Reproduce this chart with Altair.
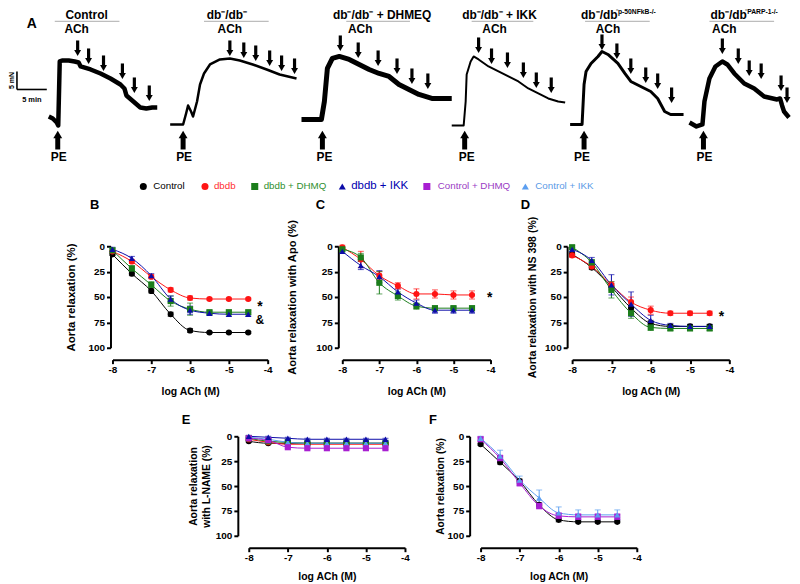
import altair as alt
import pandas as pd

FONT = "Liberation Sans"

# ---------------- Panel A : tension traces ----------------
TRACE_IDS = ["control", "dbdb", "dhmeq", "ikk", "p50", "parp"]
TRACE_WIDTH = [4.5, 2.5, 5, 2, 3, 4.5]
TRACE_X = {
    "control": [48, 52, 56, 57.5, 59, 62, 68, 74, 78, 80, 90, 100, 110, 120, 124, 126, 133, 140, 146, 152, 157],
    "dbdb": [170, 183, 186, 188, 191, 193, 197, 200, 204, 210, 220, 230, 240, 253, 267, 280, 297],
    "dhmeq": [302, 322, 325, 328, 333, 340, 350, 360, 370, 380, 390, 400, 410, 420, 433, 453],
    "ikk": [453, 465, 467, 468, 472, 475, 480, 490, 500, 510, 520, 530, 540, 550, 560, 567],
    "p50": [572, 584, 586, 588, 593, 600, 604, 610, 620, 627, 633, 643, 653, 660, 667, 673, 686],
    "parp": [692, 699, 705, 707, 712, 718, 725, 730, 737, 747, 757, 767, 780, 783, 785, 787, 792],
}
TRACE_Y = {
    "control": [115, 117, 121, 124, 60, 59, 59, 60, 61, 65, 68, 72, 77, 83, 87, 94, 100, 106, 107, 106, 106],
    "dbdb": [123, 123, 112, 104, 110, 115, 100, 83, 72, 63, 58, 57, 59, 63, 68, 73, 77],
    "dhmeq": [118, 118, 100, 67, 57, 55, 58, 63, 68, 72, 75, 83, 88, 93, 97, 97],
    "ikk": [124, 124, 100, 73, 60, 55, 58, 65, 70, 75, 80, 87, 92, 97, 100, 101],
    "p50": [123, 123, 83, 70, 62, 55, 50, 53, 62, 72, 80, 85, 90, 97, 110, 113, 113],
    "parp": [121, 125, 123, 100, 77, 65, 60, 63, 72, 82, 87, 95, 98, 97, 104, 110, 116],
}
ACH_ARROW_X = [77, 88, 103, 122, 134, 149, 230, 244, 256, 270, 282, 295,
               341, 359, 379, 398, 413, 429, 480, 493, 509, 525, 538, 553,
               604, 619, 633, 648, 660, 674, 725, 741, 752, 764, 784, 790]
ACH_ARROW_TIP = [55, 63, 70, 78, 92, 100, 55, 57, 60, 65, 70, 73,
                 50, 57, 65, 73, 83, 88, 52, 63, 67, 77, 87, 92,
                 49, 58, 73, 82, 88, 102, 53, 63, 75, 78, 90, 102]
PE_X = [57, 183, 323, 466, 586, 706]
PE_LABEL_X = [58, 184, 325, 468, 584, 707]
ACH_LABEL_X = [76, 230, 361, 496, 610, 727]
TITLE_LINE_X1 = [54, 204, 347, 473, 587, 712]
TITLE_LINE_X2 = [119, 269, 411, 535, 652, 777]
TITLES_CENTER = ["Control", "db\u207b/db\u207b", "db\u207b/db\u207b + DHMEQ", "db\u207b/db\u207b + IKK"]
TITLES_CENTER_X = [86, 227, 383, 501]
TITLES_LEFT = ["db\u207b/db", "db\u207b/db"]
TITLES_LEFT_X = [583, 713]
TITLES_SUP = ["\u207bp-50NFkB-/-", "\u207bPARP-1-/-"]
TITLES_SUP_X = [618, 748]

# legend (drawn in panel A)
SERIES = ["Control", "dbdb", "dbdb + DHMQ", "dbdb + IKK", "Control + DHMQ", "Control + IKK"]
COLORS = ["#000000", "#ff1414", "#1b7d1b", "#0c0ca8", "#a81ed2", "#5b9ef0"]
TEXT_COLORS = ["#000000", "#ff3030", "#2f8f2f", "#0000b0", "#9a3cc4", "#5a9ae6"]
SHAPES = ["circle", "circle", "square", "triangle-up", "square", "triangle-up"]
LEG_SYM_X = [143, 205, 255, 343, 428, 527]
LEG_TXT_X = [153, 214, 264, 352, 439, 537]
LEG_FS = [9.8, 9.8, 9.8, 11.5, 9.8, 9.8]

# ---------------- Concentration-response data (panels B-F) ----------------
LOGACH = [-8, -7.5, -7, -6.5, -6, -5.5, -5, -4.5]

B_VALUES = {
    "Control": [8, 27, 44, 67, 83, 85, 85, 85],
    "dbdb": [5, 15, 30, 43, 51, 52, 52, 52],
    "dbdb + DHMQ": [4, 22, 38, 54, 62, 65, 65, 65],
    "dbdb + IKK": [3, 12, 29, 52, 63, 66, 67, 67],
}
B_ERRORS = {
    "Control": [1, 2, 2, 2, 2, 1, 1, 1],
    "dbdb": [1, 2, 2, 2, 2, 1, 1, 1],
    "dbdb + DHMQ": [2, 3, 3, 5, 6, 2, 2, 2],
    "dbdb + IKK": [2, 2, 2, 3, 4, 2, 2, 2],
}
C_VALUES = {
    "dbdb": [1, 13, 29, 39, 47, 47, 48, 48],
    "dbdb + DHMQ": [3, 11, 36, 49, 59, 61, 61, 61],
    "dbdb + IKK": [5, 19, 30, 45, 56, 63, 63, 63],
}
C_ERRORS = {
    "dbdb": [2, 8, 4, 3, 5, 4, 4, 4],
    "dbdb + DHMQ": [2, 4, 11, 4, 3, 2, 2, 2],
    "dbdb + IKK": [2, 4, 6, 3, 3, 3, 3, 3],
}
D_VALUES = {
    "Control": [8, 21, 40, 61, 76, 79, 79, 79],
    "dbdb": [9, 20, 38, 55, 63, 66, 66, 66],
    "dbdb + DHMQ": [1, 16, 43, 66, 80, 81, 81, 81],
    "dbdb + IKK": [3, 14, 38, 57, 73, 78, 79, 79],
}
D_ERRORS = {
    "Control": [2, 2, 3, 4, 3, 2, 2, 2],
    "dbdb": [2, 2, 3, 5, 4, 2, 2, 2],
    "dbdb + DHMQ": [2, 3, 8, 5, 3, 2, 2, 2],
    "dbdb + IKK": [2, 3, 10, 12, 5, 2, 2, 2],
}
E_VALUES = {
    "Control": [5, 7, 7, 7, 7, 7, 7, 7],
    "dbdb": [3, 6, 8, 8, 8, 8, 8, 8],
    "dbdb + DHMQ": [2, 5, 6, 7, 7, 7, 7, 7],
    "Control + IKK": [1, 3, 6, 7, 7, 7, 7, 7],
    "Control + DHMQ": [2, 4, 11, 12, 12, 12, 12, 12],
    "dbdb + IKK": [0, 1, 2, 3, 3, 3, 3, 3],
}
E_ERRORS = {k: [1, 1, 1, 1, 1, 1, 1, 1] for k in E_VALUES}
F_VALUES = {
    "Control": [8, 26, 45, 69, 84, 86, 86, 86],
    "Control + DHMQ": [3, 22, 47, 70, 80, 81, 81, 81],
    "Control + IKK": [2, 20, 44, 62, 77, 79, 79, 79],
}
F_ERRORS = {
    "Control": [1, 2, 2, 2, 2, 1, 1, 1],
    "Control + DHMQ": [2, 3, 3, 3, 3, 3, 3, 3],
    "Control + IKK": [2, 6, 4, 8, 6, 5, 5, 5],
}

# ---------------- Panel A chart ----------------
A_W, A_H = 784, 191
ax_ = alt.Scale(domain=[8, 792], nice=False, zero=False)
ay_ = alt.Scale(domain=[8, 198], nice=False, zero=False, reverse=True)


def XA(f="x"):
    return alt.X(f"{f}:Q", scale=ax_, axis=None)


def YA(f="y"):
    return alt.Y(f"{f}:Q", scale=ay_, axis=None)


trace_rows = []
for tid, w in zip(TRACE_IDS, TRACE_WIDTH):
    for xv, yv in zip(TRACE_X[tid], TRACE_Y[tid]):
        trace_rows.append({"trace": tid, "x": xv, "y": yv, "w": w})
traces = alt.Chart(pd.DataFrame(trace_rows)).mark_line(color="black", strokeJoin="round").encode(
    x=XA(), y=YA(), detail="trace:N", strokeWidth=alt.StrokeWidth("w:Q", scale=None)
)

arr = pd.DataFrame({"x": ACH_ARROW_X, "tip": ACH_ARROW_TIP})
arr["top"] = arr["tip"] - 16
arr["bot"] = arr["tip"] - 6
arr["head"] = arr["tip"] - 3.5
shafts = alt.Chart(arr).mark_rule(color="black", strokeWidth=3.2).encode(x=XA(), y=YA("top"), y2="bot:Q")
heads = alt.Chart(arr).mark_point(shape="triangle-down", filled=True, color="black", size=48, opacity=1).encode(
    x=XA(), y=YA("head"))

pe = pd.DataFrame({"x": PE_X, "top": [136] * 6, "bot": [148] * 6, "head": [133] * 6})
pe_shafts = alt.Chart(pe).mark_rule(color="black", strokeWidth=5).encode(x=XA(), y=YA("top"), y2="bot:Q")
pe_heads = alt.Chart(pe).mark_point(shape="triangle-up", filled=True, color="black", size=80, opacity=1).encode(
    x=XA(), y=YA("head"))

bold12 = dict(font=FONT, fontWeight="bold", fontSize=12, color="black", baseline="middle")
pe_txt = alt.Chart(pd.DataFrame({"x": PE_LABEL_X, "y": [156] * 6, "t": ["PE"] * 6})).mark_text(
    align="center", **bold12).encode(x=XA(), y=YA(), text="t:N")
ach_txt = alt.Chart(pd.DataFrame({"x": ACH_LABEL_X, "y": [28] * 6, "t": ["ACh"] * 6})).mark_text(
    align="center", **bold12).encode(x=XA(), y=YA(), text="t:N")
title_c = alt.Chart(pd.DataFrame({"x": TITLES_CENTER_X, "y": [14] * 4, "t": TITLES_CENTER})).mark_text(
    align="center", **bold12).encode(x=XA(), y=YA(), text="t:N")
title_l = alt.Chart(pd.DataFrame({"x": TITLES_LEFT_X, "y": [14] * 2, "t": TITLES_LEFT})).mark_text(
    align="left", **bold12).encode(x=XA(), y=YA(), text="t:N")
title_s = alt.Chart(pd.DataFrame({"x": TITLES_SUP_X, "y": [11] * 2, "t": TITLES_SUP})).mark_text(
    align="left", font=FONT, fontWeight="bold", fontSize=6.8, color="black", baseline="middle").encode(
    x=XA(), y=YA(), text="t:N")
tlines = alt.Chart(pd.DataFrame({"x": TITLE_LINE_X1, "x2": TITLE_LINE_X2, "y": [20] * 6})).mark_rule(
    color="#bdbdbd", strokeWidth=1.2).encode(x=XA(), x2="x2:Q", y=YA())

sb_v = alt.Chart(pd.DataFrame({"x": [16], "y": [70], "y2": [88]})).mark_rule(color="black", strokeWidth=1.6).encode(
    x=XA(), y=YA(), y2="y2:Q")
sb_h = alt.Chart(pd.DataFrame({"x": [16], "x2": [46], "y": [88]})).mark_rule(color="black", strokeWidth=1.6).encode(
    x=XA(), x2="x2:Q", y=YA())
sb_t1 = alt.Chart(pd.DataFrame({"x": [11.5], "y": [79], "t": ["5 mN"]})).mark_text(
    angle=270, font=FONT, fontWeight="bold", fontSize=7, color="black", align="center", baseline="middle").encode(
    x=XA(), y=YA(), text="t:N")
sb_t2 = alt.Chart(pd.DataFrame({"x": [31], "y": [99], "t": ["5 min"]})).mark_text(
    font=FONT, fontWeight="bold", fontSize=7.5, color="black", align="center", baseline="middle").encode(
    x=XA(), y=YA(), text="t:N")
a_lab = alt.Chart(pd.DataFrame({"x": [31], "y": [23], "t": ["A"]})).mark_text(
    font=FONT, fontWeight="bold", fontSize=14, color="black", align="center", baseline="middle").encode(
    x=XA(), y=YA(), text="t:N")

color_scale = alt.Scale(domain=SERIES, range=COLORS)
shape_scale = alt.Scale(domain=SERIES, range=SHAPES)
leg = pd.DataFrame({"series": SERIES, "x": LEG_SYM_X, "xt": LEG_TXT_X, "y": [185] * 6,
                    "tc": TEXT_COLORS, "fs": LEG_FS})
leg_sym = alt.Chart(leg).mark_point(filled=True, size=50, opacity=1).encode(
    x=XA(), y=YA(), color=alt.Color("series:N", scale=color_scale, legend=None),
    shape=alt.Shape("series:N", scale=shape_scale, legend=None))
leg_txt = alt.Chart(leg).mark_text(font=FONT, align="left", baseline="middle").encode(
    x=XA("xt"), y=YA(), text="series:N", fill=alt.Fill("tc:N", scale=None), size=alt.Size("fs:Q", scale=None))

panel_a = alt.layer(tlines, traces, shafts, heads, pe_shafts, pe_heads, pe_txt, ach_txt, title_c, title_l,
                    title_s, sb_v, sb_h, sb_t1, sb_t2, a_lab, leg_sym, leg_txt).properties(width=A_W, height=A_H)


# ---------------- Panels B-F ----------------
def make_panel(values, errors, letter, ldx, ldy, ytitle, ytsize, ytpad, yoff, width, height, annots, xtpad):
    rows = []
    for s in values:
        for xv, yv, ev in zip(LOGACH, values[s], errors[s]):
            rows.append({"logach": xv, "relax": yv, "lo": yv - ev, "hi": yv + ev, "series": s})
    df = pd.DataFrame(rows)
    xs = alt.Scale(domain=[-8, -4], nice=False, zero=False)
    ys = alt.Scale(domain=[0, 100], reverse=True, nice=False, zero=False)
    common = dict(grid=False, domainColor="black", tickColor="black", labelColor="black", titleColor="black",
                  domainWidth=2, tickWidth=2, tickSize=4, labelFont=FONT, titleFont=FONT,
                  labelFontWeight="bold", titleFontWeight="bold", labelFontSize=10)
    xa = alt.Axis(values=[-8, -7, -6, -5, -4], labelExpr="'' + datum.value", title="log ACh (M)", offset=12,
                  labelPadding=1, titlePadding=xtpad, titleFontSize=10.5, labelFlush=False, **common)
    ya = alt.Axis(values=[0, 25, 50, 75, 100], title=ytitle, offset=yoff, labelPadding=2, titlePadding=ytpad,
                  titleFontSize=ytsize, **common)
    X = alt.X("logach:Q", scale=xs, axis=xa)
    color = alt.Color("series:N", scale=color_scale, legend=None)
    base = alt.Chart(df).encode(x=X, color=color)
    line = base.mark_line(interpolate="monotone", strokeWidth=1).encode(
        y=alt.Y("relax:Q", scale=ys, axis=ya), detail="series:N")
    bars = base.mark_rule(strokeWidth=1).encode(y=alt.Y("lo:Q", scale=ys, axis=ya), y2="hi:Q")
    cap_lo = base.mark_tick(orient="horizontal", size=6, thickness=1).encode(y=alt.Y("lo:Q", scale=ys, axis=ya))
    cap_hi = base.mark_tick(orient="horizontal", size=6, thickness=1).encode(y=alt.Y("hi:Q", scale=ys, axis=ya))
    pts = base.mark_point(filled=True, size=38, opacity=1).encode(
        y=alt.Y("relax:Q", scale=ys, axis=ya), shape=alt.Shape("series:N", scale=shape_scale, legend=None))
    layers = [line, bars, cap_lo, cap_hi, pts]
    if annots:
        adf = pd.DataFrame(annots, columns=["logach", "relax", "t", "fs"])
        layers.append(alt.Chart(adf).mark_text(font=FONT, fontWeight="bold", color="black",
                                               baseline="middle", align="center").encode(
            x=X, y=alt.Y("relax:Q", scale=ys, axis=ya), text="t:N", size=alt.Size("fs:Q", scale=None)))
    lab = alt.Chart(pd.DataFrame({"t": [letter]})).mark_text(
        font=FONT, fontWeight="bold", fontSize=13, color="black", baseline="middle", align="center").encode(
        x=alt.value(ldx), y=alt.value(ldy), text="t:N")
    layers.append(lab)
    return alt.layer(*layers).properties(width=width, height=height)


def spacer(w, h=10):
    return alt.Chart(pd.DataFrame({"a": [0]})).mark_point(opacity=0, size=1).properties(width=w, height=h)


panel_b = make_panel(B_VALUES, B_ERRORS, "B", -18, -41, "Aorta relaxation (%)", 11.5, 11, 2, 156, 102,
                     [(-4.2, 60, "*", 14), (-4.2, 73, "&", 12)], 12)
panel_c = make_panel(C_VALUES, C_ERRORS, "C", -22, -41, "Aorta relaxation  with Apo (%)", 11.2, 18, 4, 149, 102,
                     [(-4.02, 51, "*", 14)], 12)
panel_d = make_panel(D_VALUES, D_ERRORS, "D", -47, -41, "Aorta relaxation with NS 398 (%)", 10.6, 7, 5, 158, 102,
                     [(-4.2, 70, "*", 14)], 12)
panel_e = make_panel(E_VALUES, E_ERRORS, "E", -63, -16, ["Aorta relaxation", "with L-NAME (%)"], 10.4, 4, 11,
                     157, 100, [], 9)
panel_f = make_panel(F_VALUES, F_ERRORS, "F", -48, -16, "Aorta relaxation (%)", 10.3, 2, 11, 157, 100, [], 9)

row3 = alt.hconcat(spacer(57), panel_b, spacer(14), panel_c, spacer(25), panel_d, spacing=0)
row4 = alt.hconcat(spacer(173), panel_e, spacer(19), panel_f, spacing=0)

chart = alt.vconcat(panel_a, row3, spacer(10, 17), row4, spacing=0).properties(
    padding={"left": 0, "top": 0, "right": 0, "bottom": 0}
).configure(font=FONT).configure_view(stroke=None)

chart.save("out.html", embed_options={"renderer": "svg", "actions": False})
